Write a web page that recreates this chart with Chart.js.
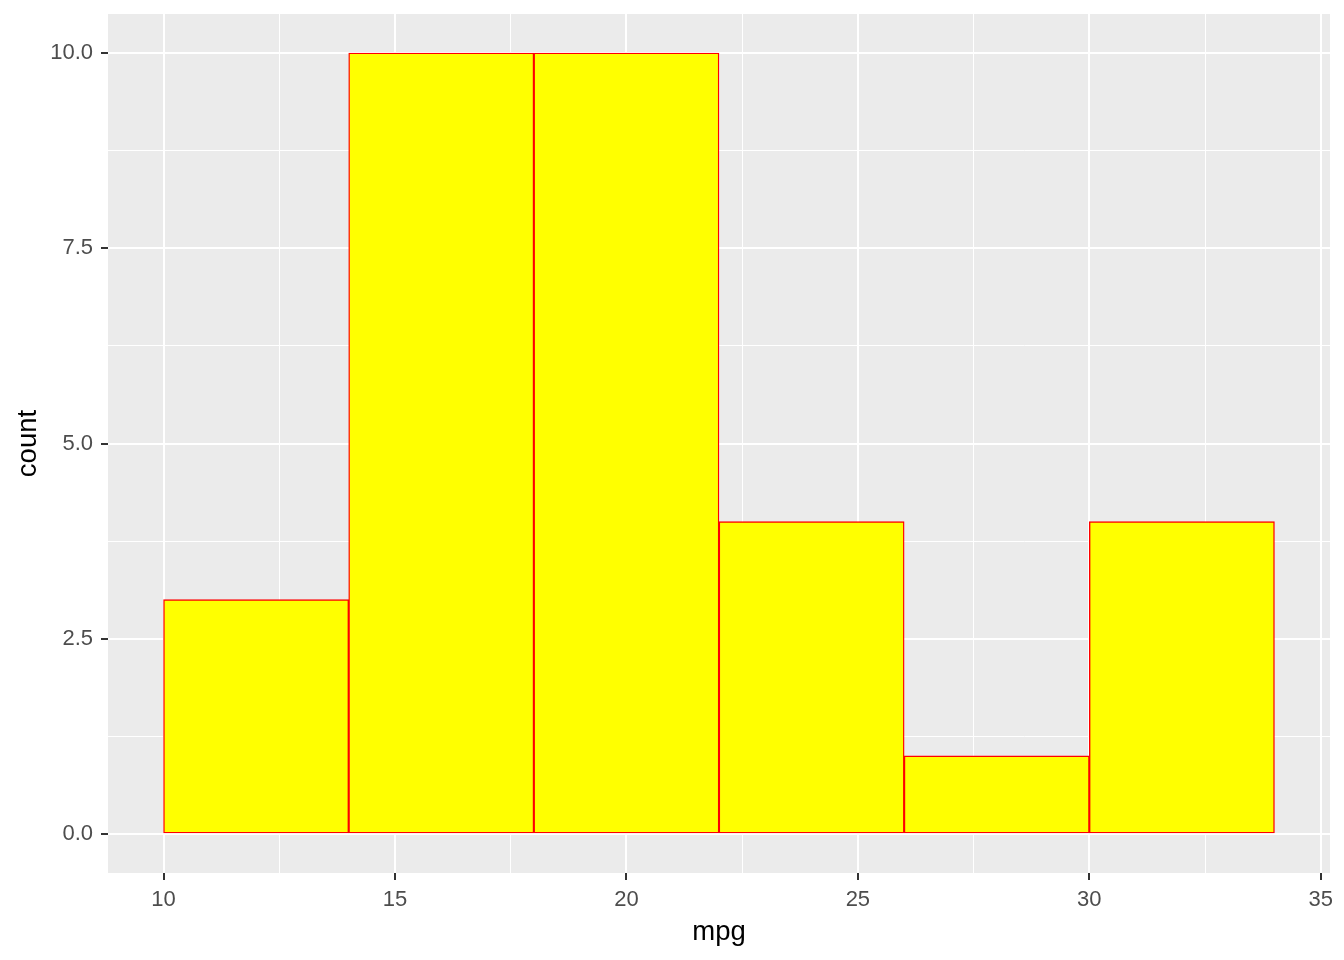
<!DOCTYPE html>
<html>
<head>
<meta charset="utf-8">
<script src="https://cdn.jsdelivr.net/npm/chart.js@4"></script>
<style>
  html, body { margin: 0; padding: 0; background: #fff; }
  #wrap { width: 1344px; height: 960px; position: relative; }
</style>
</head>
<body>
<div id="wrap"><canvas id="histChart"></canvas></div>
<script>
// mpg histogram, binwidth 4
const binStarts = [10, 14, 18, 22, 26, 30];
const binWidth = 4;
const counts = [3, 10, 10, 4, 1, 4];
const xMajor = [10, 15, 20, 25, 30, 35];
const xMinor = [12.5, 17.5, 22.5, 27.5, 32.5];
const yTicks = [0, 1.25, 2.5, 3.75, 5, 6.25, 7.5, 8.75, 10];

const isMajorY = v => v % 2.5 === 0;
const tickVal = c => (c.tick ? c.tick.value : 0);

const panelBg = {
  id: 'panelBg',
  beforeDraw(chart) {
    const a = chart.chartArea, ctx = chart.ctx;
    ctx.save();
    ctx.fillStyle = '#EBEBEB';
    ctx.fillRect(a.left, a.top, a.right - a.left, a.bottom - a.top);
    ctx.restore();
  }
};

const points = binStarts.map((s, i) => ({ x: s + binWidth / 2, y: counts[i] }));
const tickFont = { family: 'Liberation Sans', size: 22 };
const titleFont = { family: 'Liberation Sans', size: 27.5 };

new Chart(document.getElementById('histChart'), {
  type: 'bar',
  data: {
    datasets: [{
      data: points,
      xAxisID: 'x',
      backgroundColor: '#FFFF00',
      borderColor: '#FF0000',
      borderWidth: 1.4,
      borderSkipped: false,
      barPercentage: 1,
      categoryPercentage: 1
    }]
  },
  options: {
    responsive: true,
    maintainAspectRatio: false,
    animation: false,
    layout: { padding: { top: 14, right: 14, left: 0, bottom: 0 } },
    plugins: { legend: { display: false }, tooltip: { enabled: false } },
    scales: {
      x: {
        type: 'linear',
        min: 8.8, max: 35.2,
        offset: false,
        afterBuildTicks: s => { s.ticks = xMajor.map(v => ({ value: v })); },
        afterFit: s => { s.height = 87; s.paddingLeft = 0; s.paddingRight = 0; },
        border: { display: false },
        grid: {
          offset: false,
          color: '#FFFFFF',
          lineWidth: 2,
          tickColor: '#333333',
          tickWidth: 2,
          tickLength: 7
        },
        ticks: {
          autoSkip: false,
          maxRotation: 0,
          padding: 7,
          color: '#4D4D4D',
          font: tickFont,
          callback: v => String(v)
        },
        title: {
          display: true, text: 'mpg', color: '#000000',
          font: titleFont,
          padding: { top: 0, bottom: 11.5 }
        }
      },
      xMinorGrid: {
        type: 'linear',
        position: 'bottom',
        min: 8.8, max: 35.2,
        offset: false,
        afterBuildTicks: s => { s.ticks = xMinor.map(v => ({ value: v })); },
        afterFit: s => { s.height = 0; s.paddingLeft = 0; s.paddingRight = 0; },
        border: { display: false },
        grid: { offset: false, color: '#FFFFFF', lineWidth: 1, drawTicks: false },
        ticks: { display: false }
      },
      y: {
        type: 'linear',
        min: -0.5, max: 10.5,
        afterBuildTicks: s => { s.ticks = yTicks.map(v => ({ value: v })); },
        afterFit: s => { s.width = 108; s.paddingTop = 0; s.paddingBottom = 0; },
        border: { display: false },
        grid: {
          color: '#FFFFFF',
          lineWidth: c => isMajorY(tickVal(c)) ? 2 : 1,
          tickColor: c => isMajorY(tickVal(c)) ? '#333333' : 'rgba(0,0,0,0)',
          tickWidth: 2,
          tickLength: 7
        },
        ticks: {
          autoSkip: false,
          padding: 8,
          color: '#4D4D4D',
          font: tickFont,
          callback: v => isMajorY(v) ? v.toFixed(1) : ''
        },
        title: {
          display: true, text: 'count', color: '#000000',
          font: titleFont,
          padding: { top: 11.5, bottom: 0 }
        }
      }
    }
  },
  plugins: [panelBg]
});
</script>
</body>
</html>
